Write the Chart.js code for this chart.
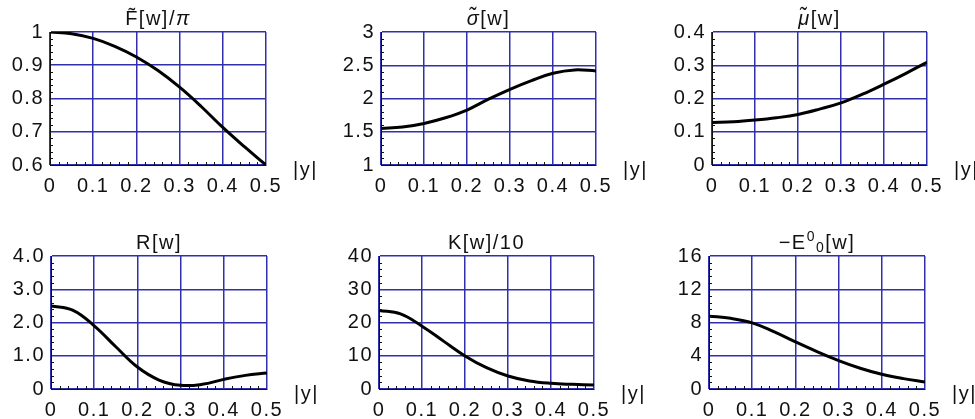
<!DOCTYPE html>
<html>
<head>
<meta charset="utf-8">
<script src="https://cdn.jsdelivr.net/npm/chart.js@4/dist/chart.umd.min.js"></script>
<style>
  html, body { margin: 0; padding: 0; background: #fff; }
  #wrap { position: relative; width: 975px; height: 419px; }
  .cell { position: absolute; }
</style>
</head>
<body>
<div id="wrap"></div>
<script>
// |y| sample points shared by all panels
const xs = [0, 0.05, 0.1, 0.15, 0.2, 0.25, 0.3, 0.35, 0.4, 0.45, 0.5];
const xTickLabels = ["0", "0.1", "0.2", "0.3", "0.4", "0.5"];

// series
const fTilde = [1.0, 0.995, 0.981, 0.957, 0.925, 0.884, 0.834, 0.776, 0.713, 0.655, 0.6];
const sigmaTilde = [1.55, 1.57, 1.625, 1.71, 1.826, 1.99, 2.139, 2.27, 2.38, 2.43, 2.415];
const muTilde = [0.128, 0.130, 0.135, 0.142, 0.152, 0.168, 0.187, 0.213, 0.243, 0.275, 0.309];
const rVals = [2.5, 2.37, 1.9, 1.27, 0.66, 0.27, 0.11, 0.14, 0.29, 0.41, 0.48];
const kVals = [23.6, 22.6, 18.9, 14.4, 9.95, 6.4, 3.9, 2.4, 1.7, 1.4, 1.2];
const eVals = [8.76, 8.5, 7.96, 6.9, 5.67, 4.5, 3.42, 2.5, 1.77, 1.25, 0.85];

// y tick labels per panel
const fTicks = ["0.6", "0.7", "0.8", "0.9", "1"];
const sigmaTicks = ["1", "1.5", "2", "2.5", "3"];
const muTicks = ["0", "0.1", "0.2", "0.3", "0.4"];
const rTicks = ["0", "1.0", "2.0", "3.0", "4.0"];
const kTicks = ["0", "10", "20", "30", "40"];
const eTicks = ["0", "4", "8", "12", "16"];

const FONT = "Liberation Sans, Arial, sans-serif";
const gridBlue = "#3030ac";

// title pieces: [text, style] where style is n(ormal), i(talic), sup, sub
const panels = [
  { data: fTilde, ticks: fTicks, min: 0.6, max: 1, step: 0.1,
    title: [["F\u0303[w]/", "n"], ["\u03c0", "i"]],
    box: { left: 0, top: 0, w: 325, h: 210, padTop: 32, padRight: 59, leftW: 50, bottomH: 45 } },
  { data: sigmaTilde, ticks: sigmaTicks, min: 1, max: 3, step: 0.5,
    title: [["\u03c3\u0303", "i"], ["[w]", "n"]],
    box: { left: 325, top: 0, w: 325, h: 210, padTop: 32, padRight: 54, leftW: 56, bottomH: 45 } },
  { data: muTilde, ticks: muTicks, min: 0, max: 0.4, step: 0.1,
    title: [["\u03bc\u0303", "i"], ["[w]", "n"]],
    box: { left: 650, top: 0, w: 325, h: 210, padTop: 32, padRight: 48, leftW: 62, bottomH: 45 } },
  { data: rVals, ticks: rTicks, min: 0, max: 4, step: 1,
    title: [["R[w]", "n"]],
    box: { left: 0, top: 210, w: 325, h: 209, padTop: 46, padRight: 58, leftW: 51, bottomH: 30 } },
  { data: kVals, ticks: kTicks, min: 0, max: 40, step: 10,
    title: [["K[w]/10", "n"]],
    box: { left: 325, top: 210, w: 325, h: 209, padTop: 46, padRight: 56, leftW: 54, bottomH: 30 } },
  { data: eVals, ticks: eTicks, min: 0, max: 16, step: 4,
    title: [["\u2212E", "n"], ["0", "sup"], ["0", "sub"], ["[w]", "n"]],
    box: { left: 650, top: 210, w: 325, h: 209, padTop: 46, padRight: 50, leftW: 59, bottomH: 30 } },
];

function fontFor(style) {
  if (style === "i") return "italic 20px " + FONT;
  if (style === "sup" || style === "sub") return "14px " + FONT;
  return "20px " + FONT;
}

// wider letter spacing, closer to the Helvetica of the original
const spacing = {
  id: "spacing",
  beforeDraw(chart) { chart.ctx.letterSpacing = "1.5px"; },
};

// title, |y| label and the little inward minor ticks
const decor = {
  id: "decor",
  afterDraw(chart, args, opts) {
    const ctx = chart.ctx;
    const area = chart.chartArea;
    const sx = chart.scales.x, sy = chart.scales.y;
    ctx.save();

    // minor ticks
    ctx.strokeStyle = "#111";
    ctx.lineWidth = 1;
    ctx.beginPath();
    for (let i = 1; i < 25; i++) {
      if (i % 5 === 0) continue;
      const px = Math.round(sx.getPixelForValue(i * 0.02)) + 0.5;
      ctx.moveTo(px, area.bottom);
      ctx.lineTo(px, area.bottom - 3);
    }
    const mstep = opts.step / 5;
    for (let i = 1; i < 20; i++) {
      if (i % 5 === 0) continue;
      const py = Math.round(sy.getPixelForValue(opts.min + i * mstep)) + 0.5;
      ctx.moveTo(area.left, py);
      ctx.lineTo(area.left + 3, py);
    }
    ctx.stroke();

    // title
    ctx.fillStyle = "#111";
    ctx.textBaseline = "alphabetic";
    ctx.textAlign = "left";
    let total = 0;
    opts.title.forEach(([t, s]) => { ctx.font = fontFor(s); total += ctx.measureText(t).width; });
    let x = (area.left + area.right) / 2 - total / 2;
    const base = area.top - 7;
    opts.title.forEach(([t, s]) => {
      ctx.font = fontFor(s);
      let y = base;
      if (s === "sup") y = base - 8;
      if (s === "sub") y = base + 3;
      ctx.fillText(t, x, y);
      x += ctx.measureText(t).width;
    });

    // axis label to the right of the x axis
    ctx.font = "20px " + FONT;
    ctx.textBaseline = "middle";
    ctx.fillText("|y|", area.right + 27, area.bottom + 5);
    ctx.restore();
  }
};

const wrap = document.getElementById("wrap");

panels.forEach((p) => {
  const b = p.box;
  const div = document.createElement("div");
  div.className = "cell";
  div.style.left = b.left + "px";
  div.style.top = b.top + "px";
  div.style.width = b.w + "px";
  div.style.height = b.h + "px";
  const canvas = document.createElement("canvas");
  div.appendChild(canvas);
  wrap.appendChild(div);

  new Chart(canvas, {
    type: "line",
    data: {
      datasets: [{
        data: xs.map((x, i) => ({ x: x, y: p.data[i] })),
        borderColor: "#000",
        borderWidth: 3,
        pointRadius: 0,
        tension: 0.4,
        fill: false,
      }],
    },
    options: {
      responsive: true,
      maintainAspectRatio: false,
      animation: false,
      layout: { padding: { top: b.padTop, right: b.padRight, left: 0, bottom: 0 } },
      plugins: {
        legend: { display: false },
        tooltip: { enabled: false },
        decor: { title: p.title, min: p.min, step: p.step },
      },
      scales: {
        x: {
          type: "linear",
          min: 0,
          max: 0.5,
          afterFit: (s) => { s.height = b.bottomH; },
          grid: { color: gridBlue, lineWidth: 1.5, drawTicks: false },
          border: { display: true, color: "#111", width: 1 },
          ticks: {
            stepSize: 0.1,
            padding: 9,
            color: "#111",
            font: { family: FONT, size: 20 },
            maxRotation: 0,
            callback: (v, i) => xTickLabels[i],
          },
        },
        y: {
          min: p.min,
          max: p.max,
          afterFit: (s) => { s.width = b.leftW; },
          grid: { color: gridBlue, lineWidth: 1.5, drawTicks: false },
          border: { display: true, color: "#111", width: 1 },
          ticks: {
            stepSize: p.step,
            padding: 6,
            color: "#111",
            font: { family: FONT, size: 20 },
            callback: (v, i) => p.ticks[i],
          },
        },
      },
    },
    plugins: [spacing, decor],
  });
});
</script>
</body>
</html>
